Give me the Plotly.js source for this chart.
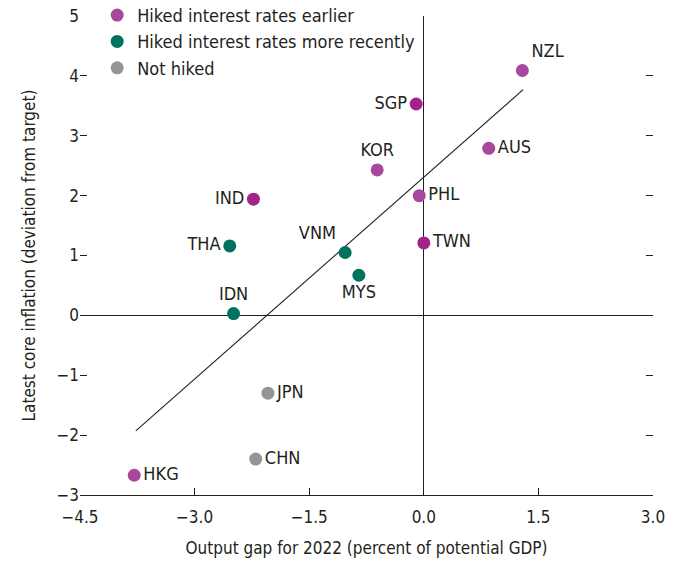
<!DOCTYPE html>
<html>
<head>
<meta charset="utf-8">
<script src="https://cdn.plot.ly/plotly-3.0.1.min.js"></script>
<style>
  html, body { margin: 0; padding: 0; background: #fff; }
  #chart { width: 679px; height: 567px; }
</style>
</head>
<body>
<div id="chart"></div>
<script>
// hiked earlier
var earlyNames = ['NZL', 'AUS', 'SGP', 'KOR', 'PHL', 'TWN', 'IND', 'HKG']
var earlyX = [1.29, 0.85, -0.10, -0.61, -0.06, 0.00, -2.23, -3.79]
var earlyY = [4.09, 2.79, 3.53, 2.43, 2.00, 1.21, 1.94, -2.67]

// hiked more recently
var recentNames = ['THA', 'VNM', 'MYS', 'IDN']
var recentX = [-2.54, -1.03, -0.85, -2.49]
var recentY = [1.16, 1.05, 0.67, 0.03]

// not hiked
var notNames = ['JPN', 'CHN']
var notX = [-2.04, -2.20]
var notY = [-1.30, -2.40]

// fitted line end points
var fitX = [-3.77, 1.30]
var fitY = [-1.93, 3.77]

var ink = '#231f20'
var font = 'DejaVu Sans Condensed, Liberation Sans Narrow, sans-serif'

var darkMagenta = '#a4228b'
var lightMagenta = '#a8479c'
var earlyColors = [lightMagenta, lightMagenta, darkMagenta, lightMagenta, lightMagenta, darkMagenta, darkMagenta, lightMagenta]

var labelFont = { family: font, size: 18, color: ink }

var traces = [
  {
    x: fitX,
    y: fitY,
    mode: 'lines',
    line: { color: ink, width: 1.1 },
    showlegend: false,
    hoverinfo: 'skip'
  },
  {
    x: earlyX,
    y: earlyY,
    text: earlyNames,
    mode: 'markers+text',
    name: 'Hiked interest rates earlier',
    marker: { size: 13, color: earlyColors },
    textposition: ['top right', 'middle right', 'middle left', 'top center', 'middle right', 'middle right', 'middle left', 'middle right'],
    textfont: labelFont
  },
  {
    x: recentX,
    y: recentY,
    text: recentNames,
    mode: 'markers+text',
    name: 'Hiked interest rates more recently',
    marker: { size: 13, color: '#00735f' },
    textposition: ['middle left', 'top left', 'bottom center', 'top center'],
    textfont: labelFont
  },
  {
    x: notX,
    y: notY,
    text: notNames,
    mode: 'markers+text',
    name: 'Not hiked',
    marker: { size: 13, color: '#939598' },
    textposition: ['middle right', 'middle right'],
    textfont: labelFont
  }
]

var layout = {
  width: 679,
  height: 567,
  margin: { l: 80, r: 26, t: 16, b: 72, autoexpand: false },
  paper_bgcolor: '#fff',
  plot_bgcolor: '#fff',
  font: { family: font, size: 17, color: ink },
  showlegend: true,
  legend: {
    x: 0.03,
    y: 1.04,
    xanchor: 'left',
    yanchor: 'top',
    bgcolor: 'rgba(0,0,0,0)',
    font: { family: font, size: 18, color: ink },
    itemwidth: 30,
    tracegroupgap: 0
  },
  xaxis: {
    range: [-4.5, 3.0],
    tickvals: [-4.5, -3.0, -1.5, 0, 1.5, 3.0],
    tickformat: '.1f',
    ticks: 'inside',
    ticklen: 7,
    tickcolor: ink,
    ticklabelstandoff: 7,
    showline: true,
    linecolor: ink,
    linewidth: 1,
    showgrid: false,
    zeroline: true,
    zerolinecolor: ink,
    zerolinewidth: 1,
    title: { text: 'Output gap for 2022 (percent of potential GDP)', font: { family: font, size: 17, color: ink }, standoff: 15 }
  },
  yaxis: {
    range: [-3, 5],
    dtick: 1,
    ticks: 'inside',
    ticklen: 7,
    tickcolor: ink,
    mirror: 'ticks',
    showline: false,
    showgrid: false,
    zeroline: true,
    zerolinecolor: ink,
    zerolinewidth: 1,
    title: { text: 'Latest core inflation (deviation from target)', font: { family: font, size: 17, color: ink }, standoff: 16 }
  }
}

Plotly.newPlot('chart', traces, layout, { displayModeBar: false, staticPlot: true })
</script>
</body>
</html>
